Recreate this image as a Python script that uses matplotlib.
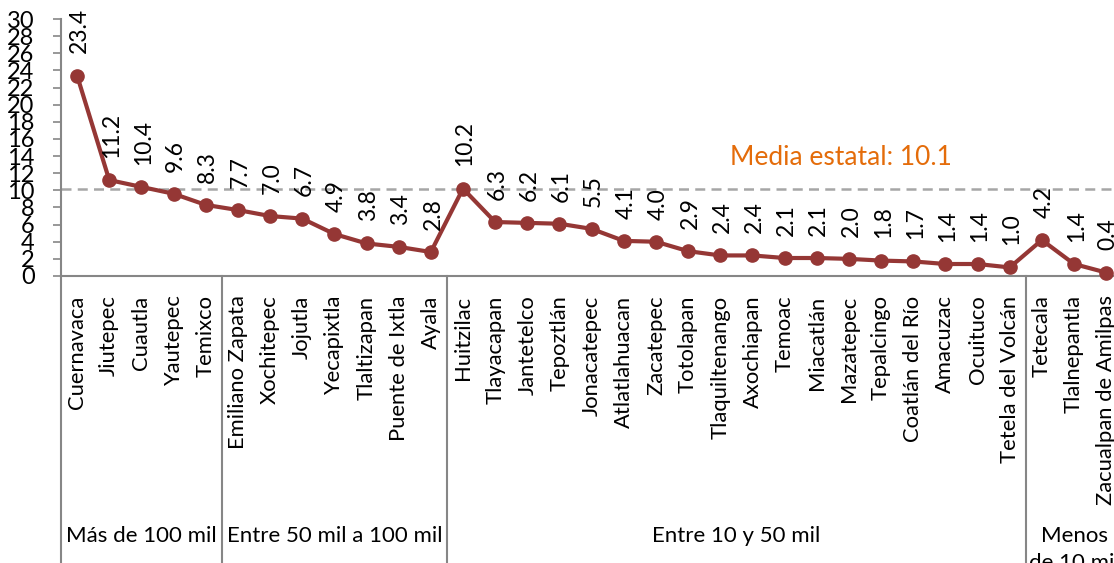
import matplotlib
matplotlib.use("Agg")
import matplotlib.pyplot as plt
from matplotlib.transforms import blended_transform_factory

municipios = ["Cuernavaca", "Jiutepec", "Cuautla", "Yautepec", "Temixco",
              "Emiliano Zapata", "Xochitepec", "Jojutla", "Yecapixtla", "Tlaltizapan",
              "Puente de Ixtla", "Ayala", "Huitzilac", "Tlayacapan", "Jantetelco",
              "Tepoztlán", "Jonacatepec", "Atlatlahuacan", "Zacatepec", "Totolapan",
              "Tlaquiltenango", "Axochiapan", "Temoac", "Miacatlán", "Mazatepec",
              "Tepalcingo", "Coatlán del Río", "Amacuzac", "Ocuituco", "Tetela del Volcán",
              "Tetecala", "Tlalnepantla", "Zacualpan de Amilpas"]
valores = [23.4, 11.2, 10.4, 9.6, 8.3,
           7.7, 7.0, 6.7, 4.9, 3.8, 3.4, 2.8,
           10.2, 6.3, 6.2, 6.1, 5.5, 4.1, 4.0, 2.9, 2.4, 2.4, 2.1, 2.1, 2.0,
           1.8, 1.7, 1.4, 1.4, 1.0,
           4.2, 1.4, 0.4]
grupos = ["Más de 100 mil", "Entre 50 mil a 100 mil", "Entre 10 y 50 mil", "Menos\nde 10 mil"]
grupo_tamanos = [5, 7, 18, 3]
media_estatal = 10.1
yticks = list(range(0, 31, 2))

plt.rcParams['font.family'] = ['Lato', 'DejaVu Sans']

W, H = 1114, 563
fig = plt.figure(figsize=(W / 100, H / 100), dpi=100)
ax_left = 61 / W
ax_w = 33 * 32.16 / W
ax_bottom = (H - 276) / H
ax_h = 257 / H
ax = fig.add_axes([ax_left, ax_bottom, ax_w, ax_h])

x = list(range(len(valores)))
line_color = "#953735"
ax.plot(x, valores, color=line_color, lw=3, marker='o', markersize=9.5, clip_on=False, zorder=3)

for xi, v in zip(x, valores):
    ax.annotate(f"{v:.1f}", (xi, v), xytext=(1.5, 16), textcoords='offset points',
                rotation=90, ha='center', va='bottom', fontsize=16.5, color='black',
                annotation_clip=False)

ax.axhline(media_estatal, color='#A6A6A6', lw=1.8, ls=(0, (4, 2.5)), zorder=1, clip_on=False)
ax.text(23.75, 13.8, f"Media estatal: {media_estatal}", color='#E46C0A', fontsize=19,
        ha='center', va='center')

ax.set_xlim(-0.5, len(valores) - 0.5)
ax.set_ylim(0, 30)
ax.set_yticks(yticks)
ax.set_yticklabels([str(t) for t in yticks], fontsize=17)
ax.tick_params(axis='y', direction='out', length=6, width=1.2, color='#868686', pad=13)
ax.set_xticks(x)
ax.set_xticklabels(municipios, rotation=90, fontsize=15.8, va='top', ha='center')
ax.tick_params(axis='x', length=0, pad=14)

for s in ['top', 'right']:
    ax.spines[s].set_visible(False)
for s in ['left', 'bottom']:
    ax.spines[s].set_color('#868686')
    ax.spines[s].set_linewidth(1.5)

trans = blended_transform_factory(ax.transData, fig.transFigure)
bounds = [-0.5]
acc = -0.5
for n in grupo_tamanos:
    acc += n
    bounds.append(acc)
for b in bounds[:-1]:
    fig.add_artist(plt.Line2D([b, b], [0, ax_bottom], transform=trans, color='#868686', lw=1.5))

for i, g in enumerate(grupos):
    cx = (bounds[i] + bounds[i + 1]) / 2
    if i == len(grupos) - 1:
        fig.text(cx, 0.066, g, transform=trans, ha='center', va='top', fontsize=16, linespacing=1.45)
    else:
        fig.text(cx, 0.048, g, transform=trans, ha='center', va='center', fontsize=16)

fig.savefig("out.png", dpi=100)
